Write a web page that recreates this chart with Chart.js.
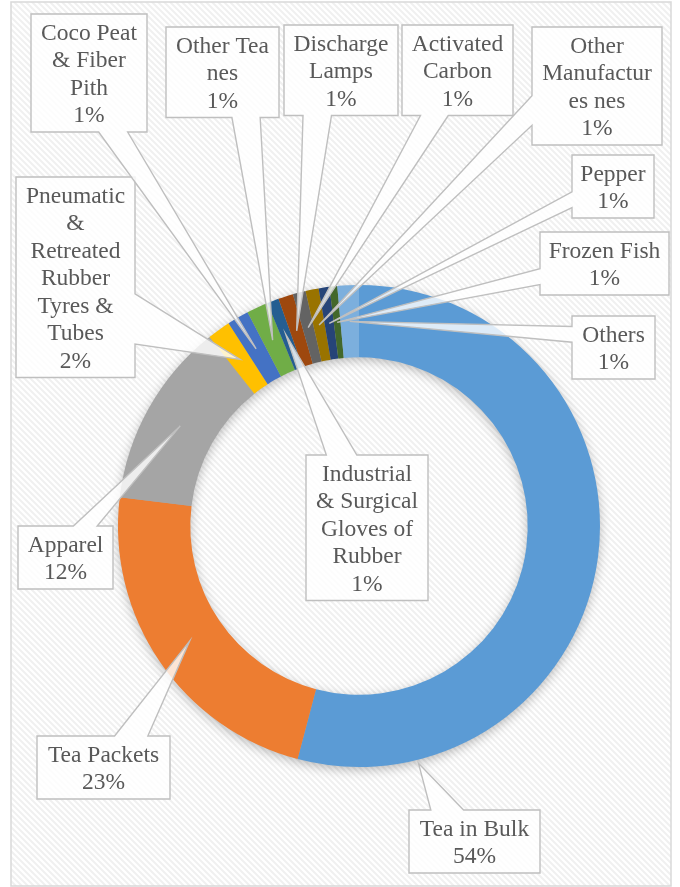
<!DOCTYPE html>
<html>
<head>
<meta charset="utf-8">
<script src="https://cdn.jsdelivr.net/npm/chart.js@4.4.0/dist/chart.umd.min.js"></script>
<style>
  html, body { margin: 0; padding: 0; background: #fff; }
  canvas { display: block; }
</style>
</head>
<body>
<canvas id="doughnut-chart" width="680" height="887"></canvas>
<script>
// export categories
const categories = [
  'Tea in Bulk',
  'Tea Packets',
  'Apparel',
  'Pneumatic & Retreated Rubber Tyres & Tubes',
  'Coco Peat & Fiber Pith',
  'Other Tea nes',
  'Industrial & Surgical Gloves of Rubber',
  'Discharge Lamps',
  'Activated Carbon',
  'Other Manufactures nes',
  'Pepper',
  'Frozen Fish',
  'Others'
];

// share of exports, %
const shares = [54.1, 22.8, 12.45, 1.55, 1.45, 1.45, 0.78, 1.0, 0.86, 0.88, 0.72, 0.52, 1.44];

// office palette
const colors = ['#5B9BD5', '#ED7D31', '#A5A5A5', '#FFC000', '#4472C4', '#70AD47',
  '#255E91', '#9E480E', '#636363', '#997300', '#264478', '#43682B', '#7CAFDD'];

// where each callout box sits (x, y, width); t / rf = where the pointer lands on the slice
const boxes = [
  {x: 409, y: 810, w: 131, t: 0.852, rf: 1.05},
  {x: 37, y: 736, w: 133},
  {x: 18, y: 526, w: 95},
  {x: 16, y: 177, w: 119},
  {x: 31, y: 14, w: 116},
  {x: 166, y: 27, w: 113},
  {x: 306, y: 455, w: 122},
  {x: 284, y: 25, w: 114},
  {x: 402, y: 25, w: 111},
  {x: 532, y: 27, w: 130},
  {x: 572, y: 155, w: 82},
  {x: 540, y: 232, w: 129},
  {x: 572, y: 316, w: 83}
];

const FONT = "23.5px 'Liberation Serif', 'Times New Roman', serif";
const LINE = 27.5;

function stripes(ctx) {
  const tile = document.createElement('canvas');
  tile.width = tile.height = 6;
  const t = tile.getContext('2d');
  t.fillStyle = '#fff';
  t.fillRect(0, 0, 6, 6);
  t.strokeStyle = '#f0f0f0';
  t.lineWidth = 2;
  t.beginPath();
  t.moveTo(-1, -1); t.lineTo(7, 7);
  t.moveTo(-1, 5); t.lineTo(1, 7);
  t.moveTo(5, -1); t.lineTo(7, 1);
  t.stroke();
  return ctx.createPattern(tile, 'repeat');
}

// word wrap, breaking long words when they don't fit
function wrap(ctx, text, maxW) {
  const lines = [];
  let line = '';
  for (let word of text.split(' ')) {
    const test = line ? line + ' ' + word : word;
    if (ctx.measureText(test).width <= maxW) { line = test; continue; }
    if (line) lines.push(line);
    line = '';
    while (ctx.measureText(word).width > maxW) {
      let k = word.length;
      while (k > 1 && ctx.measureText(word.slice(0, k)).width > maxW) k--;
      lines.push(word.slice(0, k));
      word = word.slice(k);
    }
    line = word;
  }
  if (line) lines.push(line);
  return lines;
}

// rectangle with a wedge pointing at (ax, ay), like excel's wedgeRectCallout
function calloutPath(ctx, b, ax, ay) {
  const {x, y, w, h} = b;
  const cx = x + w / 2, cy = y + h / 2;
  const side = Math.abs(ax - cx) / w > Math.abs(ay - cy) / h;
  const x1 = x + w * (ax > cx ? 7 : 2) / 12, x2 = x + w * (ax > cx ? 10 : 5) / 12;
  const y1 = y + h * (ay > cy ? 7 : 2) / 12, y2 = y + h * (ay > cy ? 10 : 5) / 12;
  ctx.beginPath();
  ctx.moveTo(x, y);
  if (!side && ay < cy) { ctx.lineTo(x1, y); ctx.lineTo(ax, ay); ctx.lineTo(x2, y); }
  ctx.lineTo(x + w, y);
  if (side && ax > cx) { ctx.lineTo(x + w, y1); ctx.lineTo(ax, ay); ctx.lineTo(x + w, y2); }
  ctx.lineTo(x + w, y + h);
  if (!side && ay > cy) { ctx.lineTo(x2, y + h); ctx.lineTo(ax, ay); ctx.lineTo(x1, y + h); }
  ctx.lineTo(x, y + h);
  if (side && ax < cx) { ctx.lineTo(x, y2); ctx.lineTo(ax, ay); ctx.lineTo(x, y1); }
  ctx.closePath();
}

const backdrop = {
  id: 'backdrop',
  beforeDraw(chart) {
    const ctx = chart.ctx;
    ctx.save();
    ctx.fillStyle = '#fff';
    ctx.fillRect(0, 0, chart.width, chart.height);
    ctx.fillStyle = stripes(ctx);
    ctx.fillRect(11, 2, 660, 884);
    ctx.strokeStyle = '#d9d9d9';
    ctx.lineWidth = 1.5;
    ctx.strokeRect(11, 2, 660, 884);
    ctx.restore();
  },
  beforeDatasetsDraw(chart) {
    // soft shadow under the ring
    const ctx = chart.ctx;
    const arc = chart.getDatasetMeta(0).data[0];
    ctx.save();
    ctx.shadowColor = 'rgba(0,0,0,0.3)';
    ctx.shadowBlur = 12;
    ctx.shadowOffsetY = 3;
    ctx.fillStyle = '#aaa';
    ctx.beginPath();
    ctx.arc(arc.x, arc.y, arc.outerRadius - 1, 0, Math.PI * 2);
    ctx.arc(arc.x, arc.y, arc.innerRadius + 1, 0, Math.PI * 2, true);
    ctx.fill();
    ctx.restore();
  }
};

const callouts = {
  id: 'callouts',
  afterDatasetsDraw(chart) {
    const ctx = chart.ctx;
    const arcs = chart.getDatasetMeta(0).data;
    const total = shares.reduce((a, b) => a + b, 0);
    ctx.save();
    ctx.font = FONT;
    arcs.forEach((arc, i) => {
      const b = boxes[i];
      const t = b.t ?? 0.5, rf = b.rf ?? 0.5;
      const ang = arc.startAngle + (arc.endAngle - arc.startAngle) * t;
      const r = arc.innerRadius + (arc.outerRadius - arc.innerRadius) * rf;
      const ax = arc.x + r * Math.cos(ang), ay = arc.y + r * Math.sin(ang);
      const lines = wrap(ctx, categories[i], b.w - 14);
      lines.push(Math.round(shares[i] / total * 100) + '%');
      const box = {x: b.x, y: b.y, w: b.w, h: lines.length * LINE + 8};
      calloutPath(ctx, box, ax, ay);
      ctx.fillStyle = 'rgba(255,255,255,0.8)';
      ctx.fill();
      ctx.strokeStyle = '#bfbfbf';
      ctx.lineWidth = 1.4;
      ctx.stroke();
      ctx.fillStyle = '#595959';
      ctx.textAlign = 'center';
      ctx.textBaseline = 'middle';
      lines.forEach((ln, k) => {
        ctx.fillText(ln, box.x + box.w / 2, box.y + 6 + (k + 0.5) * LINE);
      });
    });
    ctx.restore();
  }
};

const doughnutChart = new Chart(document.getElementById('doughnut-chart'), {
  type: 'doughnut',
  data: {
    labels: categories,
    datasets: [{
      data: shares,
      backgroundColor: colors,
      borderWidth: 0,
      hoverOffset: 0,
      offset: 0
    }]
  },
  options: {
    responsive: false,
    animation: false,
    devicePixelRatio: 1,
    cutout: '70%',
    layout: {
      padding: {left: 118, right: 80, top: 285, bottom: 120}
    },
    plugins: {
      legend: { display: false },
      tooltip: { enabled: false }
    }
  },
  plugins: [backdrop, callouts]
});
</script>
</body>
</html>
